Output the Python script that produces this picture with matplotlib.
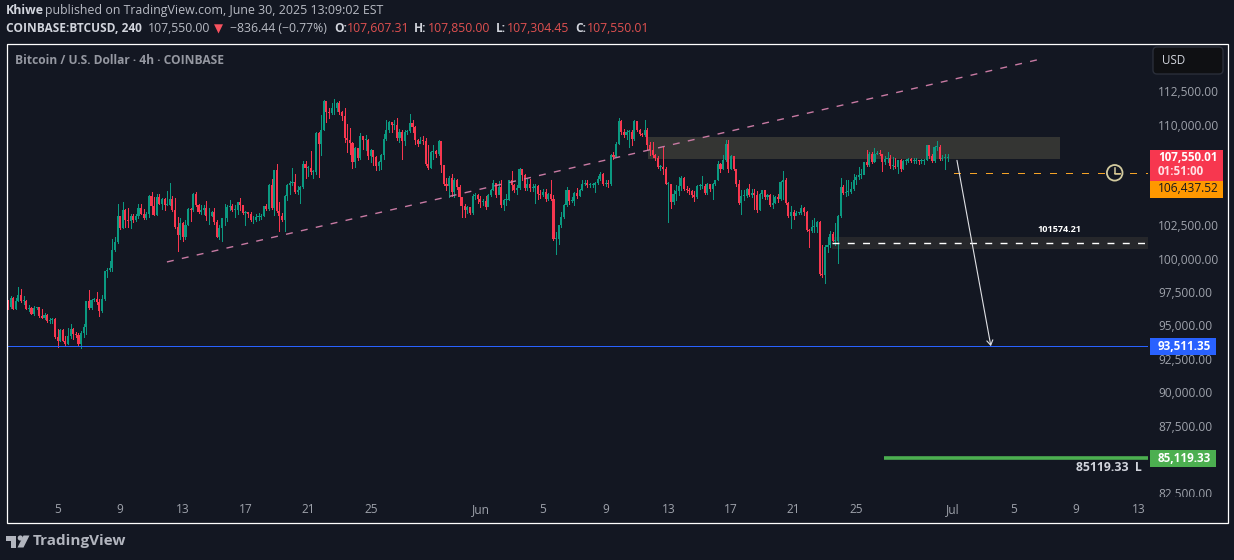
import matplotlib
matplotlib.use("Agg")
import matplotlib.pyplot as plt
from matplotlib.patches import Rectangle, FancyBboxPatch, Circle, Polygon
from matplotlib.transforms import Bbox

plt.rcParams['font.family'] = ['Open Sans', 'DejaVu Sans']

# Prices in thousands of USD, one entry per 4h bar
closes = [96.40,97.05,96.25,96.85,97.30,96.80,96.85,96.25,96.30,95.83,
96.30,96.35,95.70,95.58,95.80,95.30,95.40,95.50,94.10,93.85,
94.68,93.85,93.65,94.20,94.70,94.35,94.28,93.60,94.45,94.90,
96.83,96.33,96.90,96.98,96.75,96.05,96.98,99.08,99.15,99.30,
100.68,101.23,103.15,102.30,103.60,102.85,102.80,103.15,102.85,103.15,
103.78,103.35,103.00,103.30,104.70,103.93,103.25,104.58,104.05,104.45,
103.98,104.03,104.43,103.65,102.40,101.75,102.68,101.58,102.55,103.73,
103.60,104.80,104.00,103.48,103.65,103.80,103.15,103.15,103.45,102.70,
101.65,102.30,103.00,103.00,103.85,103.95,103.65,103.65,104.20,103.98,
103.40,103.45,103.30,102.85,102.90,103.10,103.10,103.20,103.90,103.70,
105.48,103.75,106.60,103.55,103.15,102.85,104.70,105.48,105.65,105.70,
104.95,105.15,105.33,107.05,106.75,106.75,106.45,106.48,109.43,108.55,
109.65,111.78,110.98,110.90,111.23,111.23,111.65,110.98,110.65,109.03,
108.85,108.68,107.23,108.30,107.50,109.15,108.85,108.90,107.65,108.10,
107.60,106.90,107.23,107.73,108.98,109.60,110.18,109.98,109.98,109.03,
109.48,108.78,109.48,109.55,110.15,109.85,108.85,108.55,108.80,108.78,
107.10,106.80,107.98,108.03,107.80,108.78,106.98,105.60,105.40,106.03,
104.98,105.90,105.35,104.60,103.90,103.60,103.85,103.40,104.65,104.73,
104.48,104.23,104.28,103.85,104.73,105.10,105.65,104.73,105.35,103.98,
104.40,104.40,105.85,105.48,105.15,105.30,106.68,106.23,105.30,105.55,
105.30,105.30,105.40,104.80,104.73,104.98,104.43,104.80,104.48,101.48,
101.48,102.48,103.10,103.98,105.10,104.30,104.30,104.90,104.65,105.15,
105.55,105.68,105.48,105.48,105.48,105.68,105.98,
106.30,105.60,105.60,105.55,107.73,107.60,108.60,110.30,109.48,109.23,
109.48,109.48,108.98,110.28,109.60,109.30,109.23,109.65,108.48,108.10,
107.73,107.55,106.85,106.85,106.73,105.60,105.60,104.23,104.85,105.05,
105.40,106.05,105.23,105.10,105.05,104.73,104.60,105.40,105.40,105.40,
104.90,105.55,105.18,105.55,105.85,107.05,106.73,107.35,108.60,106.73,
107.65,106.73,105.55,104.15,104.65,104.65,105.23,104.73,104.90,104.73,
103.65,104.85,105.10,104.60,104.73,103.98,104.15,104.60,104.48,105.73,
105.85,104.15,103.15,103.48,103.15,103.40,103.40,103.80,103.48,102.15,
102.10,102.35,102.35,102.73,98.85,98.80,100.85,100.98,101.85,101.35,
101.35,103.15,105.35,104.90,104.98,104.98,105.23,105.90,106.10,106.23,
106.23,107.20,106.98,107.80,107.23,107.85,107.90,107.85,107.23,107.48,
107.55,106.90,106.90,106.85,107.35,106.73,107.30,107.30,107.48,107.28,
107.30,107.35,107.28,107.30,107.40,108.48,107.65,107.28,108.35,108.35,
107.48,107.55,107.55,107.55]

highs = [96.90,97.23,97.15,97.05,97.90,97.73,97.18,96.90,96.55,96.40,
96.48,96.40,96.40,96.23,95.90,95.85,95.55,95.55,95.55,94.73,
94.75,94.70,94.23,94.80,95.10,94.80,94.50,94.40,94.60,95.10,
96.85,97.68,96.95,97.05,97.48,96.98,97.30,99.10,99.30,99.80,
101.43,101.65,104.10,103.15,104.25,103.73,103.75,103.35,103.30,103.35,
104.05,104.05,103.73,103.48,104.73,104.95,104.60,104.80,104.85,104.55,
104.55,105.03,105.68,104.65,104.55,103.10,103.05,102.70,102.85,103.80,
103.80,104.90,104.95,104.05,103.98,103.98,104.28,103.80,103.55,103.80,
102.90,102.48,102.90,104.10,103.98,104.40,104.10,103.98,104.25,104.55,
103.98,103.55,103.50,103.45,103.15,103.35,103.40,103.35,103.95,104.05,
105.60,105.93,106.65,107.05,104.23,103.40,104.73,105.55,105.80,106.80,
106.35,105.40,105.40,107.28,107.28,106.90,108.03,106.60,109.48,109.48,
110.73,111.85,111.78,111.23,111.60,111.90,111.73,111.80,111.05,111.30,
110.10,109.80,108.73,108.35,108.30,109.40,109.20,109.23,108.98,108.23,
108.15,107.70,107.30,107.85,109.35,110.40,110.30,110.23,110.40,110.48,
109.73,109.65,109.65,109.65,110.80,110.35,109.90,108.98,109.10,109.15,
109.05,108.48,108.05,108.48,108.10,108.90,108.78,106.98,106.05,106.15,
106.30,106.05,105.98,105.48,104.60,104.10,103.90,103.85,104.85,104.90,
104.85,104.65,104.48,104.65,104.80,105.23,105.85,105.65,105.80,105.90,
104.48,104.85,105.90,106.53,105.60,105.48,106.80,106.65,106.35,105.98,
105.98,105.60,105.60,105.48,105.10,105.23,105.23,104.90,105.90,104.73,
101.98,102.55,103.48,104.05,105.35,105.15,104.60,104.98,105.30,105.23,
105.90,105.90,105.90,105.65,105.65,105.73,106.15,
106.48,106.40,105.85,105.85,107.85,107.98,108.73,110.55,110.35,109.73,
109.65,109.60,109.65,110.35,110.30,109.73,109.40,110.35,109.80,108.73,
108.73,107.85,107.65,106.98,108.43,106.85,105.73,104.90,105.10,105.48,
106.10,106.15,106.10,105.40,105.30,105.10,105.05,105.48,105.60,106.15,
105.55,105.65,105.60,105.65,105.90,107.30,107.15,107.73,108.90,108.90,
107.73,107.65,106.73,105.85,105.10,105.10,105.30,105.55,105.23,105.23,
105.05,104.90,105.15,105.15,104.80,104.85,104.73,104.65,104.80,105.80,
106.53,106.05,104.23,103.90,103.60,103.55,103.48,103.98,103.85,103.55,
102.23,102.90,103.05,102.80,102.80,100.98,100.98,101.65,102.05,101.98,
102.65,103.23,106.05,105.48,105.85,105.90,105.73,106.30,106.23,106.85,
106.73,107.25,108.15,107.98,107.98,108.30,108.05,108.15,107.80,107.65,
107.98,107.73,107.60,107.55,107.40,107.48,107.40,107.48,107.55,107.55,
107.55,107.55,107.40,107.48,107.45,108.53,108.48,107.85,108.40,108.78,
108.53,107.73,107.80,107.80]

lows = [96.20,96.30,96.25,96.25,96.80,96.75,96.60,96.25,96.10,95.83,
95.80,96.23,95.65,95.53,95.50,95.23,95.15,95.15,94.05,93.40,
93.80,93.80,93.48,93.60,94.05,93.98,94.15,93.55,93.28,94.15,
94.35,96.23,96.23,96.85,96.60,95.73,95.98,96.90,98.60,99.05,
99.05,100.55,101.20,102.23,102.30,102.35,102.35,102.28,102.73,102.80,
103.05,103.30,102.98,102.93,103.10,103.35,103.23,103.23,104.05,103.73,
103.60,103.98,103.98,103.55,102.30,100.60,101.48,101.35,101.48,102.48,
102.80,103.55,103.90,103.40,103.30,103.30,102.85,102.60,103.15,102.60,
101.65,101.48,101.35,102.48,102.80,103.65,103.55,103.10,103.35,103.60,
103.30,102.55,103.10,102.80,102.65,102.80,102.85,102.98,103.15,103.65,
103.65,103.70,103.23,103.48,102.03,102.80,102.10,104.40,104.85,105.48,
104.90,104.80,104.15,105.28,106.05,106.15,106.35,106.05,106.35,106.10,
107.73,109.60,110.23,110.48,110.85,110.85,111.05,110.85,110.35,108.73,
107.98,107.85,106.80,106.85,107.35,107.48,108.23,108.10,107.48,107.23,
106.98,106.65,106.60,106.73,107.48,108.90,109.48,109.48,109.73,108.90,
108.73,107.48,108.48,109.35,109.48,109.48,108.60,108.40,108.65,108.60,
106.98,106.73,106.80,107.48,107.60,107.73,106.48,105.48,105.10,104.60,
104.65,104.60,105.23,103.98,103.10,103.10,103.40,103.30,103.35,104.48,
104.15,103.85,103.98,103.73,103.90,104.65,105.10,104.60,104.80,103.85,
103.60,103.98,104.35,105.15,104.98,104.85,105.23,105.85,105.15,105.10,
105.05,105.05,104.15,104.48,104.55,104.65,104.30,104.40,104.40,101.40,
100.35,101.10,102.40,103.05,103.90,104.05,104.23,103.98,104.55,104.65,
105.10,105.48,105.35,105.35,105.35,104.98,105.55,
105.85,105.48,105.40,105.35,105.48,107.48,107.60,108.55,109.35,109.10,
108.98,108.35,108.48,108.90,109.55,109.23,109.15,109.15,108.23,107.73,
107.60,107.40,106.80,106.60,106.30,105.55,102.73,103.80,104.10,104.35,
104.73,105.10,105.15,104.98,104.80,104.60,104.30,104.55,105.23,105.30,
104.85,104.85,105.05,104.45,105.50,105.85,106.48,106.73,107.30,106.48,
106.73,106.60,105.40,104.10,103.30,104.35,104.60,104.65,104.60,103.73,
103.48,103.60,104.55,104.48,104.48,103.90,103.80,104.15,104.23,104.40,
104.48,104.10,103.10,102.30,102.98,103.35,103.30,103.35,103.23,102.10,
100.85,101.98,101.98,101.98,98.80,98.65,98.15,100.48,100.90,101.30,
101.05,99.65,103.10,104.80,104.65,104.73,104.90,105.15,105.55,105.98,
106.05,106.48,106.90,106.90,107.15,107.23,107.80,107.73,106.55,107.10,
107.23,106.80,106.73,106.80,106.40,106.55,106.73,107.05,107.23,107.20,
107.15,107.15,107.10,107.15,107.10,107.35,107.55,107.20,107.23,108.10,
107.40,107.40,106.68,107.28]

first_open = 96.45

price_ticks = [112.5, 110.0, 102.5, 100.0, 97.5, 95.0, 92.5, 90.0, 87.5, 82.5]
price_tick_labels = ["112,500.00", "110,000.00", "102,500.00", "100,000.00", "97,500.00",
                     "95,000.00", "92,500.00", "90,000.00", "87,500.00", "82,500.00"]
date_ticks = [19, 43, 67, 91, 115, 139, 181.3, 205, 229, 253, 277, 301, 325, 361.8, 385.3, 409.3, 433.3]
date_tick_labels = ["5", "9", "13", "17", "21", "25", "Jun", "5", "9", "13", "17", "21", "25",
                    "Jul", "5", "9", "13"]

trend_x = [60.9, 395.8]
trend_p = [99.75, 114.93]
zone_x = [245.2, 403.0]
zone_p = [107.45, 109.1]
band_x0 = 315.7
band_p = [100.72, 101.6]
band_level = 101.15
blue_level = 93.46
green_level = 85.12
green_x0 = 335.6
orange_level = 106.38
orange_x0 = 362.4
arrow_from = (363.6, 107.35)
arrow_to = (376.6, 93.45)

assert len(closes) == len(highs) == len(lows), (len(closes), len(highs), len(lows))

BG = "#131722"
UP = "#0b9981"
DOWN = "#f7374f"
TXT = "#d1d4dc"
AXT = "#9ea2ab"
W, H = 1234, 560

fig = plt.figure(figsize=(W / 100, H / 100), dpi=100, facecolor=BG)
ax = fig.add_axes([7 / W, 1 - 497 / H, (1148 - 7) / W, (497 - 44) / H], facecolor=BG)
ax.set_xlim(-0.38, 436.8)
ax.set_ylim(82.17, 116.05)
for s in ax.spines.values():
    s.set_visible(False)

opens = [first_open] + closes[:-1]
xs = list(range(len(closes)))
cols = [UP if c >= o else DOWN for o, c in zip(opens, closes)]
ax.add_patch(Rectangle((zone_x[0], zone_p[0]), zone_x[1] - zone_x[0], zone_p[1] - zone_p[0],
                       fc="#343533", ec="none", zorder=1))
ax.add_patch(Rectangle((band_x0, band_p[0]), 436.8 - band_x0, band_p[1] - band_p[0],
                       fc="#26272b", ec="none", zorder=1))
ax.vlines(xs, lows, highs, colors=cols, lw=0.72, zorder=2, antialiased=False)
ax.bar(xs, [max(abs(c - o), 0.07) for o, c in zip(opens, closes)],
       bottom=[min(o, c) for o, c in zip(opens, closes)],
       width=0.8, color=cols, linewidth=0, zorder=3, antialiased=False)

ax.plot(trend_x, trend_p, color="#c87aa3", lw=1.0, dashes=(5, 6), zorder=4)
ax.plot([band_x0, 436.8], [band_level, band_level], color="white", lw=1.0, dashes=(5, 6), zorder=4)
ax.plot([orange_x0, 436.8], [orange_level, orange_level], color="#f5a327", lw=1.0, dashes=(5, 6.5),
        zorder=4, antialiased=False)
ax.plot([-0.38, 436.8], [blue_level, blue_level], color="#2962ff", lw=0.72, zorder=4, antialiased=False)
ax.plot([green_x0, 436.8], [green_level, green_level], color="#4caf50", lw=2.6,
        solid_capstyle="butt", zorder=4)
ax.annotate("", xy=arrow_to, xytext=arrow_from,
            arrowprops=dict(arrowstyle="->,head_length=0.35,head_width=0.22", color="#dfe0e4",
                            lw=0.8, shrinkA=0, shrinkB=0), zorder=5)

ax.yaxis.tick_right()
ax.set_yticks(price_ticks, price_tick_labels)
ax.set_xticks(date_ticks, date_tick_labels)
ax.tick_params(axis="y", length=0, pad=7.2, labelcolor=AXT, labelsize=8.6)
ax.tick_params(axis="x", length=0, pad=4.5, labelcolor=AXT, labelsize=8.6)
clip = Bbox.from_extents(0, H - 497, W, H)
for lab in ax.get_yticklabels():
    lab.set_clip_on(True)
    lab.set_clip_box(clip)

# Overlay in pixel coordinates for the page furniture
ov = fig.add_axes([0, 0, 1, 1], facecolor="none")
ov.set_xlim(0, W)
ov.set_ylim(H, 0)
ov.axis("off")
ov.add_patch(Rectangle((6.5, 43.5), 1221, 479.2, fc="none", ec="white", lw=0.9))

def T(x, y, s, color=TXT, size=8.6, weight="normal", ha="left"):
    return ov.text(x, y, s, color=color, fontsize=size, fontweight=weight, ha=ha, va="center")

T(6, 10.5, "Khiwe", weight="bold", size=8.9)
T(45, 10.5, "published on TradingView.com, June 30, 2025 13:09:02 EST", color="#b8bbc4", size=8.95)
T(6, 29, "COINBASE:BTCUSD, 240", weight="bold", size=8.6)
T(148, 29, "107,550.00", color="#b8bbc4", size=8.8)
T(214, 29, "▼", color="#f7525f", size=8.5)
T(230, 29, "−836.44 (−0.77%)", color="#b8bbc4", size=8.8)
hdr = [(334, "O:", 347, "107,607.31"), (414, "H:", 428, "107,850.00"),
       (496, "L:", 507, "107,304.45"), (575, "C:", 587, "107,550.01")]
for x0, a, x1, b in hdr:
    T(x0, 29, a, weight="bold")
    T(x1, 29, b, color="#e05050", size=8.8)
T(15, 60.5, "Bitcoin / U.S. Dollar · 4h · COINBASE", color="#9598a1", weight="bold", size=8.65)

# currency button
ov.add_patch(FancyBboxPatch((1155, 49), 66, 23, boxstyle="round,pad=2,rounding_size=4",
                            fc="#0f1013", ec="#2a2e39", lw=1))
T(1162, 61, "USD", size=8.4)

# price badges
ov.add_patch(Rectangle((1150, 150), 73, 31, fc=DOWN, ec="none"))
ov.add_patch(Rectangle((1150, 181), 73, 17, fc="#ff9800", ec="none"))
ov.add_patch(Rectangle((1150, 338), 66, 17, fc="#2962ff", ec="none"))
ov.add_patch(Rectangle((1150, 450), 66, 17, fc="#4caf50", ec="none"))
T(1158, 157.5, "107,550.01", color="white", weight="bold", size=8.4)
T(1158, 171.5, "01:51:00", color="#ffe0e4", weight="bold", size=8.4)
T(1158, 189, "106,437.52", color="#16181f", size=8.6)
T(1158, 346, "93,511.35", color="white", weight="bold", size=8.4)
T(1158, 458, "85,119.33", color="white", weight="bold", size=8.4)

T(1059, 229.5, "101574.21", color="white", weight="bold", size=6.6, ha="center")
T(1142, 467.5, "85119.33  L", color=TXT, weight="bold", size=8.8, ha="right")

# alert clock
ov.add_patch(Circle((1114.7, 172.8), 7.8, fc="none", ec="#d3cb9f", lw=1.3))
ov.plot([1114.7, 1114.7, 1120], [167.5, 174.2, 174.2], color="#d3cb9f", lw=1.1)

# logo
logo = "#b2b5be"
ov.add_patch(Polygon([(6, 535.5), (16, 535.5), (16, 547.5), (10.5, 547.5), (10.5, 540.5), (6, 540.5)], fc=logo, ec="none"))
ov.add_patch(Circle((20.3, 538), 2.6, fc=logo, ec="none"))
ov.add_patch(Polygon([(23.5, 535.5), (29.5, 535.5), (23.5, 547.5), (17.5, 547.5)], fc=logo, ec="none"))
T(33, 541, "TradingView", color=logo, size=11, weight="bold")

fig.savefig("out.png", dpi=100, facecolor=BG)
